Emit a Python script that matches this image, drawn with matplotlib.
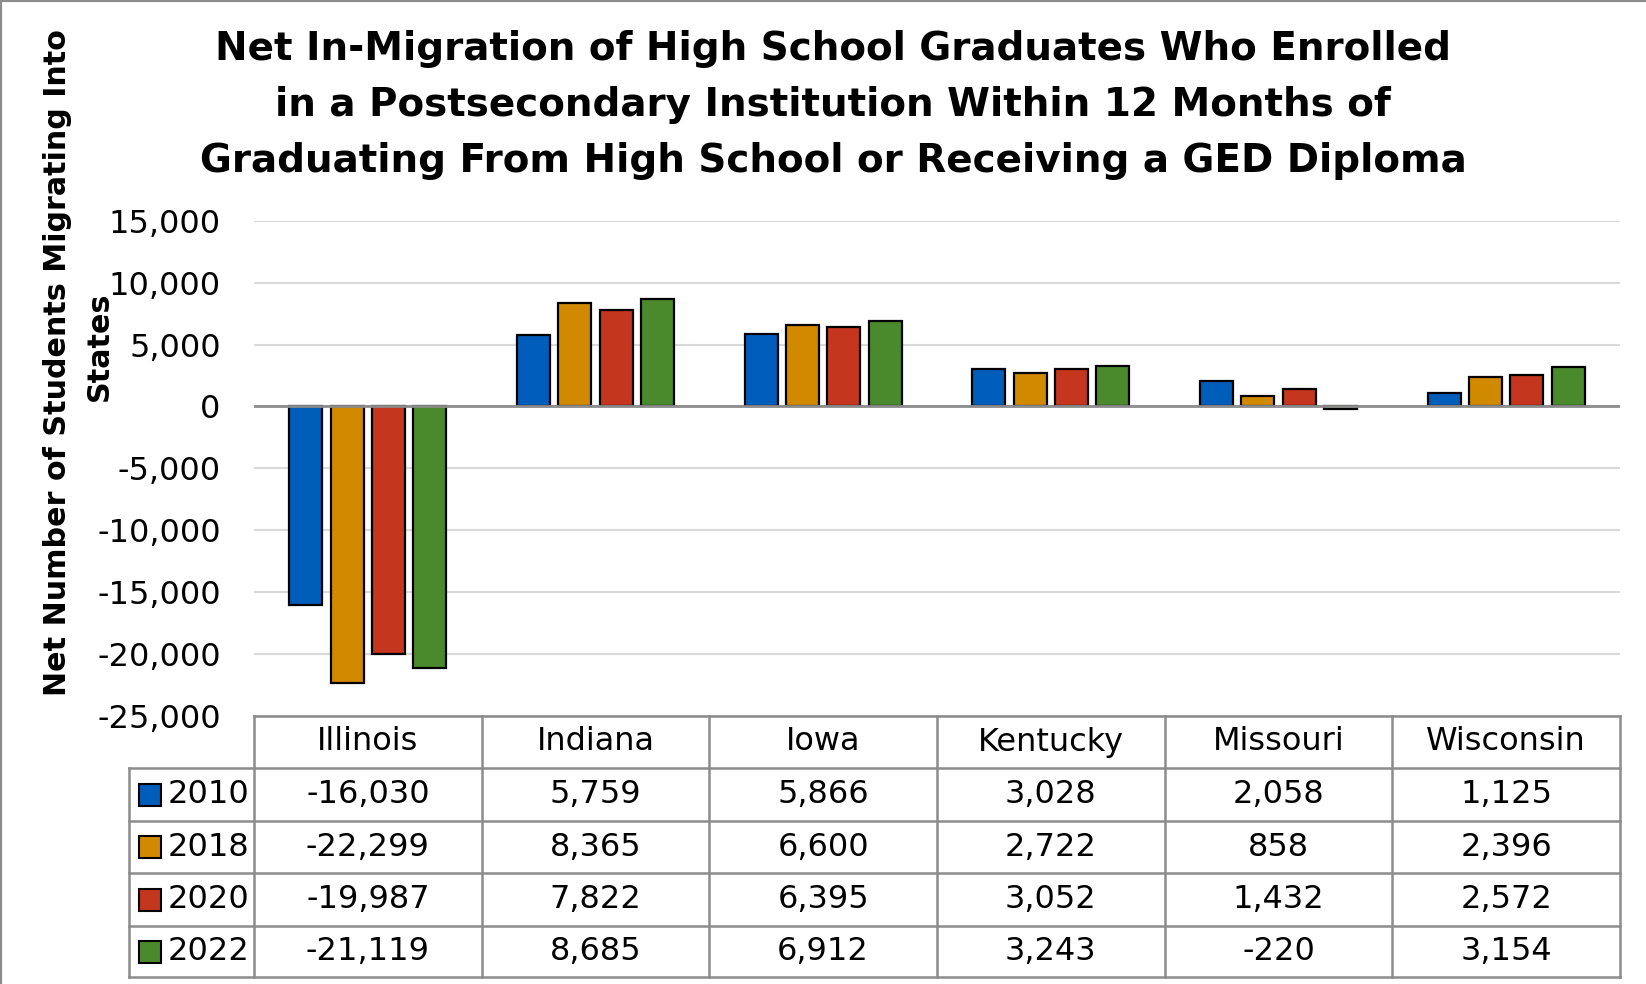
import numpy as np
import matplotlib.pyplot as plt
import matplotlib.transforms as mtransforms
from matplotlib.lines import Line2D
from matplotlib.patches import Rectangle
from matplotlib.ticker import FuncFormatter

plt.rcParams['font.family'] = ['DejaVu Sans']

states = ["Illinois", "Indiana", "Iowa", "Kentucky", "Missouri", "Wisconsin"]
years = ["2010", "2018", "2020", "2022"]
v2010 = [-16030, 5759, 5866, 3028, 2058, 1125]
v2018 = [-22299, 8365, 6600, 2722, 858, 2396]
v2020 = [-19987, 7822, 6395, 3052, 1432, 2572]
v2022 = [-21119, 8685, 6912, 3243, -220, 3154]
series = [v2010, v2018, v2020, v2022]
colors = ["#005db9", "#d18a00", "#c4371e", "#4b8a2c"]

title = ("Net In-Migration of High School Graduates Who Enrolled\n"
         "in a Postsecondary Institution Within 12 Months of\n"
         "Graduating From High School or Receiving a GED Diploma")
ylabel_lines = ["Net Number of Students Migrating Into", "States"]

W, H = 1646, 984
fig = plt.figure(figsize=(W / 100, H / 100), dpi=100)
ax = fig.add_axes([254 / W, 1 - 716 / H, 1366 / W, (716 - 220.7) / H])

x = np.arange(len(states))
pitch, width = 0.1815, 0.145
for i, (vals, c) in enumerate(zip(series, colors)):
    ax.bar(x + (i - 1.5) * pitch, vals, width, color=c, edgecolor="black",
           linewidth=1.6, zorder=3)

ax.set_xlim(-0.5, 5.5)
ax.set_ylim(-25000, 15000)
ax.set_yticks(range(-25000, 15001, 5000))
ax.yaxis.set_major_formatter(FuncFormatter(lambda v, p: f"{int(v):,}"))
ax.tick_params(axis="y", length=0, pad=24, labelsize=23)
ax.set_xticks([])
ax.grid(axis="y", color="#d9d9d9", linewidth=1.5, zorder=0)
ax.axhline(0, color="#8c8c8c", linewidth=2, zorder=4)
for s in ax.spines.values():
    s.set_visible(False)

# data table under the axes: columns follow the category positions
trans = mtransforms.blended_transform_factory(ax.transData, fig.transFigure)
rows_px = [716, 768, 821, 873, 926, 977]
fy = [1 - r / H for r in rows_px]
cat_px = 1366 / 6
xl = -0.5 - (254 - 129) / cat_px
gc = "#8c8c8c"
lw = 1.8

def tline(xs, ys):
    ax.add_line(Line2D(xs, ys, transform=trans, color=gc, linewidth=lw,
                       clip_on=False, zorder=5))

tline([-0.5, 5.5], [fy[0], fy[0]])
for y in fy[1:]:
    tline([xl, 5.5], [y, y])
for xb in np.arange(-0.5, 5.6, 1.0):
    tline([xb, xb], [fy[0], fy[-1]])
tline([xl, xl], [fy[1], fy[-1]])

for j, st in enumerate(states):
    ax.text(j, (fy[0] + fy[1]) / 2, st, transform=trans, ha="center",
            va="center", fontsize=23, clip_on=False)

sq = 22 / cat_px
for i, (yr, vals, c) in enumerate(zip(years, series, colors)):
    yc = (fy[i + 1] + fy[i + 2]) / 2
    ax.add_patch(Rectangle((-0.5 - (254 - 139) / cat_px, yc - 11 / H), sq, 22 / H,
                           transform=trans, facecolor=c, edgecolor="black",
                           linewidth=1.5, clip_on=False))
    ax.text(-0.5 - (254 - 168) / cat_px, yc, yr, transform=trans, ha="left",
            va="center", fontsize=23, clip_on=False)
    for j, v in enumerate(vals):
        ax.text(j, yc, f"{v:,}", transform=trans, ha="center", va="center",
                fontsize=23, clip_on=False)

fig.text(833 / W, 1 - 105 / H, title, ha="center", va="center",
         fontsize=28, fontweight="bold", linespacing=1.6)
# two-line rotated axis title
fig.text(58 / W, 1 - 363 / H, ylabel_lines[0], ha="center", va="center",
         rotation=90, fontsize=21.7, fontweight="bold")
fig.text(99 / W, 1 - 346 / H, ylabel_lines[1], ha="center", va="center",
         rotation=90, fontsize=21.7, fontweight="bold")

# outer frame on the top and left edges
fig.add_artist(Line2D([0, 0], [0, 1], transform=fig.transFigure, color="#8c8c8c", linewidth=3))
fig.add_artist(Line2D([0, 1], [1, 1], transform=fig.transFigure, color="#8c8c8c", linewidth=3))

fig.savefig("out.png", dpi=100)
